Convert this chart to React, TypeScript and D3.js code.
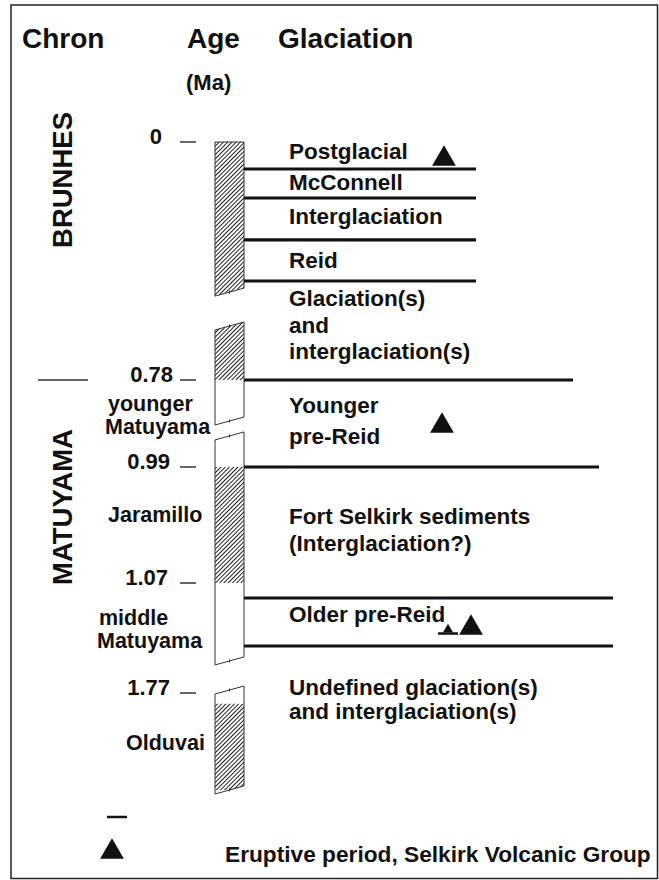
import React, { useEffect, useRef } from "react";
import * as d3 from "d3";

// ages (Ma) marked on the age column
const ageTicks = [0, 0.78, 0.99, 1.07, 1.77];
const ageTickLabels = ["0", "0.78", "0.99", "1.07", "1.77"];
const ageBottom = 1.95; // base of the Olduvai

// chrons
const chronNames = ["BRUNHES", "MATUYAMA"];
const chronBoundary = 0.78;

// subchron labels next to the polarity column
const subchronLabels = [
  ["younger", "Matuyama"],
  ["Jaramillo"],
  ["middle", "Matuyama"],
  ["Olduvai"],
];

// polarity intervals (normal = hatched)
const polarityStart = [0, 0.78, 0.99, 1.07, 1.79];
const polarityEnd = [0.78, 0.99, 1.07, 1.79, 1.95];
const polarityNormal = [true, false, true, false, true];

// the column is drawn in pieces, with breaks between them
const pieceStart = [0, 0.603, 0.915, 1.751];
const pieceEnd = [0.492, 0.879, 1.566, 1.95];

// glaciation unit boundaries (Ma)
const glacBoundaries = [0.0885, 0.1835, 0.321, 0.4556, 0.78, 0.99, 1.1655, 1.471];

// glaciation units, from the top
const glacUnits = [
  ["Postglacial"],
  ["McConnell"],
  ["Interglaciation"],
  ["Reid"],
  ["Glaciation(s)", "and", "interglaciation(s)"],
  ["Younger", "pre-Reid"],
  ["Fort Selkirk sediments", "(Interglaciation?)"],
  ["Older pre-Reid"],
  ["Undefined glaciation(s)", "and interglaciation(s)"],
];

// eruptive periods, Selkirk Volcanic Group (Ma)
const eruptionAges = [0.0557, 0.891, 1.356];
const shortEruptionAge = 1.366;

const legendText = "Eruptive period, Selkirk Volcanic Group";

export default function App() {
  const svgRef = useRef<SVGSVGElement>(null);

  useEffect(() => {
    const W = 659;
    const H = 880;
    const font = "'Liberation Sans', Arial, Helvetica, sans-serif";
    const ink = "#111";

    const svg = d3.select(svgRef.current);
    svg.selectAll("*").remove();
    svg.attr("width", W).attr("height", H).style("font-family", font);

    // piecewise age scale (the column is not to scale)
    const y = d3
      .scaleLinear()
      .domain([...ageTicks, ageBottom])
      .range([142, 380, 467, 583, 693, 790]);

    const colL = 215;
    const colR = 244;
    const slant = 4;

    const defs = svg.append("defs");
    const pat = defs
      .append("pattern")
      .attr("id", "hatch")
      .attr("patternUnits", "userSpaceOnUse")
      .attr("width", 3)
      .attr("height", 10)
      .attr("patternTransform", "rotate(45)");
    pat.append("rect").attr("width", 3).attr("height", 10).attr("fill", "#fff");
    pat
      .append("line")
      .attr("x1", 0.5)
      .attr("x2", 0.5)
      .attr("y1", 0)
      .attr("y2", 10)
      .attr("stroke", "#222")
      .attr("stroke-width", 1);

    // frame
    svg
      .append("rect")
      .attr("x", 11)
      .attr("y", 5)
      .attr("width", 646.5)
      .attr("height", 873.5)
      .attr("fill", "none")
      .attr("stroke", "#222")
      .attr("stroke-width", 1.5);

    // headers
    const headers = [
      { t: "Chron", x: 22 },
      { t: "Age", x: 187 },
      { t: "Glaciation", x: 278 },
    ];
    headers.forEach((h) => {
      svg
        .append("text")
        .attr("x", h.x)
        .attr("y", 48)
        .style("font-size", "28px")
        .style("font-weight", "bold")
        .attr("fill", ink)
        .text(h.t);
    });
    svg
      .append("text")
      .attr("x", 186)
      .attr("y", 90)
      .style("font-size", "22px")
      .style("font-weight", "bold")
      .attr("fill", ink)
      .text("(Ma)");

    // chron names, rotated
    const chronLabelY = [180, 507];
    chronNames.forEach((c, i) => {
      svg
        .append("text")
        .attr("transform", `translate(72,${chronLabelY[i]}) rotate(-90)`)
        .attr("text-anchor", "middle")
        .style("font-size", "27.5px")
        .style("font-weight", "bold")
        .attr("fill", ink)
        .text(c);
    });
    svg
      .append("line")
      .attr("x1", 38)
      .attr("x2", 88)
      .attr("y1", y(chronBoundary))
      .attr("y2", y(chronBoundary))
      .attr("stroke", "#333")
      .attr("stroke-width", 1.5);

    // age ticks
    const tickLabelEnd = [162, 173, 170, 168, 170];
    ageTicks.forEach((a, i) => {
      svg
        .append("line")
        .attr("x1", 180)
        .attr("x2", 196)
        .attr("y1", y(a))
        .attr("y2", y(a))
        .attr("stroke", "#333")
        .attr("stroke-width", 1.5);
      svg
        .append("text")
        .attr("x", tickLabelEnd[i])
        .attr("y", y(a) + 2)
        .attr("text-anchor", "end")
        .style("font-size", "22px")
        .style("font-weight", "bold")
        .attr("fill", ink)
        .text(ageTickLabels[i]);
    });

    // subchron labels
    const subPos = [
      { x: [108, 105], y: 411, lh: 23 },
      { x: [108], y: 522, lh: 0 },
      { x: [99, 97], y: 625, lh: 23 },
      { x: [126], y: 750, lh: 0 },
    ];
    subchronLabels.forEach((lines, i) => {
      lines.forEach((l, j) => {
        svg
          .append("text")
          .attr("x", subPos[i].x[j])
          .attr("y", subPos[i].y + j * subPos[i].lh)
          .style("font-size", "21.5px")
          .style("font-weight", "bold")
          .attr("fill", ink)
          .text(l);
      });
    });

    // polarity column pieces
    pieceStart.forEach((s, i) => {
      const y0 = y(s);
      const y1 = y(pieceEnd[i]);
      const flatTop = s === 0;
      const tl = flatTop ? y0 : y0 + slant;
      const tr = flatTop ? y0 : y0 - slant;
      const bl = y1 + slant;
      const br = y1 - slant;
      const poly = `M${colL},${tl}L${colR},${tr}L${colR},${br}L${colL},${bl}Z`;

      defs.append("clipPath").attr("id", `piece-${i}`).append("path").attr("d", poly);

      const g = svg.append("g").attr("clip-path", `url(#piece-${i})`);
      polarityStart.forEach((ps, k) => {
        g.append("rect")
          .attr("x", colL)
          .attr("width", colR - colL)
          .attr("y", y(ps))
          .attr("height", y(polarityEnd[k]) - y(ps))
          .attr("fill", polarityNormal[k] ? "url(#hatch)" : "#fff");
      });

      svg
        .append("path")
        .attr("d", poly)
        .attr("fill", "none")
        .attr("stroke", "#333")
        .attr("stroke-width", 1);

      // little notch in the middle of each break
      const cx = (colL + colR) / 2;
      const notches = flatTop ? [y1] : [y0, y1];
      notches.forEach((ny) => {
        svg
          .append("line")
          .attr("x1", cx)
          .attr("x2", cx)
          .attr("y1", ny - 1.5)
          .attr("y2", ny + 1.5)
          .attr("stroke", "#333")
          .attr("stroke-width", 1);
      });
    });

    // glaciation boundaries
    const lineEnd = [476, 476, 476, 476, 573, 599, 613, 613];
    glacBoundaries.forEach((b, i) => {
      svg
        .append("line")
        .attr("x1", colR)
        .attr("x2", lineEnd[i])
        .attr("y1", y(b))
        .attr("y2", y(b))
        .attr("stroke", ink)
        .attr("stroke-width", 3.2);
    });

    // glaciation unit labels
    const unitTop = [0, ...glacBoundaries];
    const labelDy = [17, 21, 26, 28, 25, 33, 57, 24, 49];
    const labelLh = [0, 0, 0, 0, 26.5, 31, 27, 0, 23.5];
    glacUnits.forEach((lines, i) => {
      lines.forEach((l, j) => {
        svg
          .append("text")
          .attr("x", 289)
          .attr("y", y(unitTop[i]) + labelDy[i] + j * labelLh[i])
          .style("font-size", "22.5px")
          .style("font-weight", "bold")
          .attr("fill", ink)
          .text(l);
      });
    });

    // eruptive periods
    const tri = d3.symbol().type(d3.symbolTriangle).size(245);
    const eruptX = [444, 442, 471];
    eruptionAges.forEach((a, i) => {
      svg
        .append("path")
        .attr("d", tri())
        .attr("transform", `translate(${eruptX[i]},${y(a)})`)
        .attr("fill", ink);
    });
    // short eruptive episode: small triangle over a dash
    svg
      .append("path")
      .attr("d", d3.symbol().type(d3.symbolTriangle).size(45)())
      .attr("transform", `translate(448,${y(shortEruptionAge)})`)
      .attr("fill", ink);
    svg
      .append("line")
      .attr("x1", 438)
      .attr("x2", 458)
      .attr("y1", y(shortEruptionAge) + 4)
      .attr("y2", y(shortEruptionAge) + 4)
      .attr("stroke", ink)
      .attr("stroke-width", 2.5);

    // legend
    svg
      .append("line")
      .attr("x1", 107)
      .attr("x2", 127)
      .attr("y1", 817)
      .attr("y2", 817)
      .attr("stroke", ink)
      .attr("stroke-width", 2.5);
    svg
      .append("path")
      .attr("d", tri())
      .attr("transform", "translate(112,852)")
      .attr("fill", ink);
    svg
      .append("text")
      .attr("x", 225)
      .attr("y", 862)
      .style("font-size", "22.7px")
      .style("font-weight", "bold")
      .attr("fill", ink)
      .text(legendText);
  }, []);

  return (
    <div style={{ position: "absolute", left: 0, top: 0, background: "#fff" }}>
      <svg ref={svgRef} />
    </div>
  );
}
